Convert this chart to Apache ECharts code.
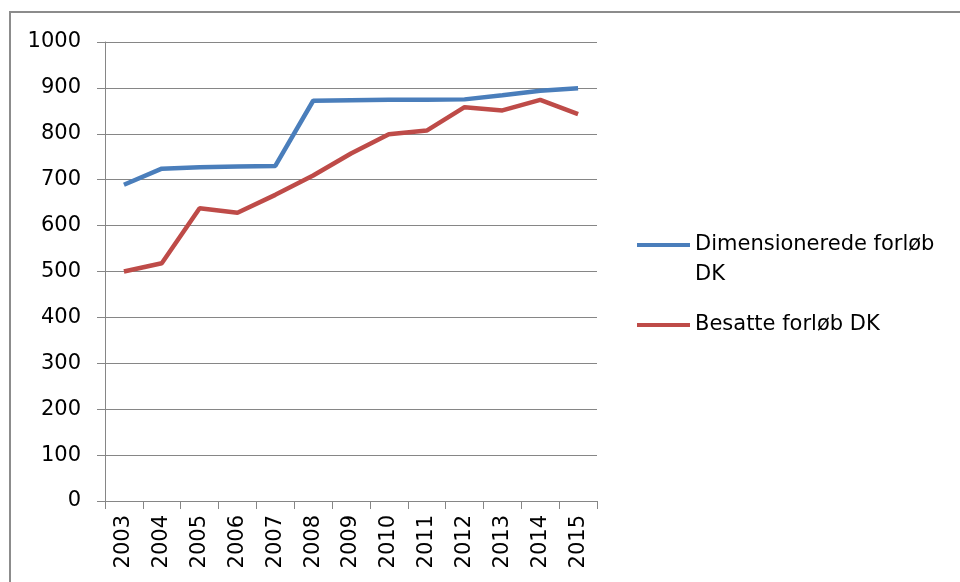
<!DOCTYPE html>
<html>
<head>
<meta charset="utf-8">
<script src="https://cdn.jsdelivr.net/npm/echarts@6/dist/echarts.min.js"></script>
<style>
  html, body { margin: 0; padding: 0; background: #fff; }
  #main { width: 960px; height: 582px; }
</style>
</head>
<body>
<div id="main"></div>
<script>
// data
const years = ['2003', '2004', '2005', '2006', '2007', '2008', '2009', '2010', '2011', '2012', '2013', '2014', '2015']
const dimensionerede = [689, 724, 727, 729, 730, 872, 873, 874, 874, 875, 884, 894, 899]
const besatte = [500, 518, 638, 628, 667, 709, 757, 799, 807, 858, 851, 874, 843]
const seriesNames = ['Dimensionerede forløb DK', 'Besatte forløb DK']

const font = 'DejaVu Sans'
const axisColor = '#868686'

const chart = echarts.init(document.getElementById('main'))
chart.setOption({
  animation: false,
  backgroundColor: '#fff',
  textStyle: { fontFamily: font },
  graphic: [
    {
      // outer chart frame
      type: 'rect',
      shape: { x: 10, y: 12, width: 1000, height: 1000 },
      style: { fill: 'none', stroke: '#8c8c8c', lineWidth: 2 },
      silent: true
    }
  ],
  grid: { left: 105, right: 363, top: 42, bottom: 81 },
  legend: {
    orient: 'vertical',
    left: 637,
    top: 200,
    padding: 0,
    itemGap: 20,
    itemWidth: 53,
    itemHeight: 4,
    icon: 'rect',
    // blank first line keeps the icon level with the first text line
    formatter: name => name === seriesNames[0] ? ' \nDimensionerede forløb\nDK' : name,
    textStyle: { fontFamily: font, fontSize: 21, color: '#000', lineHeight: 30 },
    data: seriesNames
  },
  xAxis: {
    type: 'category',
    data: years,
    boundaryGap: true,
    axisLine: { lineStyle: { color: axisColor, width: 1 } },
    axisTick: { show: true, length: 8, interval: 0, lineStyle: { color: axisColor } },
    axisLabel: { rotate: 90, margin: 14, interval: 0, fontFamily: font, fontSize: 21, color: '#000' },
    splitLine: { show: false }
  },
  yAxis: {
    type: 'value',
    min: 0,
    max: 1000,
    interval: 100,
    axisLine: { show: true, lineStyle: { color: axisColor, width: 1 } },
    axisTick: { show: true, length: 8, lineStyle: { color: axisColor } },
    axisLabel: { margin: 24, fontFamily: font, fontSize: 21, color: '#000', formatter: v => String(v) },
    splitLine: { show: true, lineStyle: { color: axisColor, width: 1 } }
  },
  series: [
    {
      name: seriesNames[0],
      type: 'line',
      data: dimensionerede,
      symbol: 'none',
      lineStyle: { color: '#4A7EBB', width: 4.5 },
      itemStyle: { color: '#4A7EBB' }
    },
    {
      name: seriesNames[1],
      type: 'line',
      data: besatte,
      symbol: 'none',
      lineStyle: { color: '#BE4B48', width: 4.5 },
      itemStyle: { color: '#BE4B48' }
    }
  ]
})
</script>
</body>
</html>
